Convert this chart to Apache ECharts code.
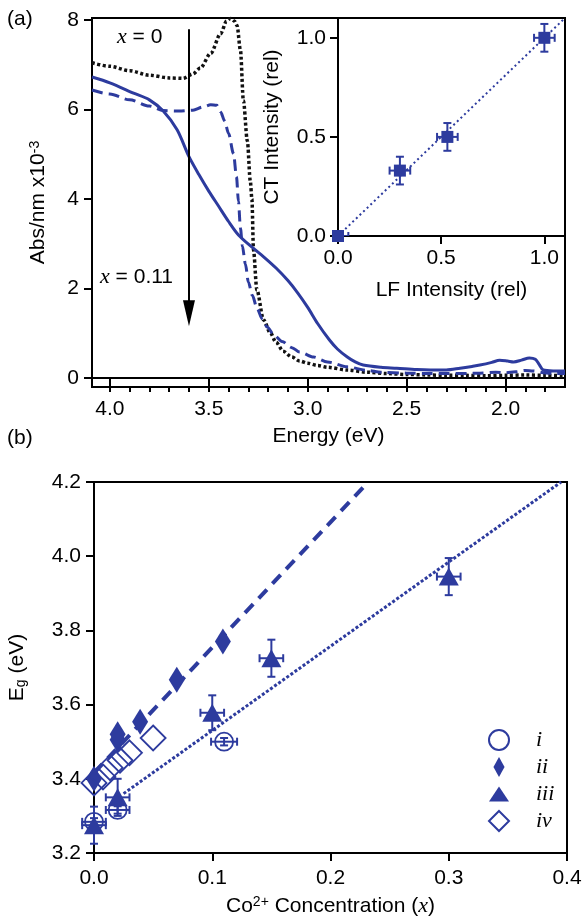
<!DOCTYPE html>
<html>
<head>
<meta charset="utf-8">
<title></title>
<script src="https://cdn.jsdelivr.net/npm/echarts@6.0.0/dist/echarts.min.js"></script>
<style>
html, body { margin: 0; padding: 0; background: #fff; }
#main { width: 585px; height: 924px; }
</style>
</head>
<body>
<div id="main"></div>
<script>
var blue = '#2d3b9e';
var sans = 'Liberation Sans, Arial, sans-serif';
var serif = 'Liberation Serif, Times New Roman, serif';

// (a) absorption spectra: energy (eV) vs Abs/nm x10^-3
var energyX0 = [4.09, 4.0, 3.9, 3.8, 3.7, 3.63, 3.58, 3.543, 3.49, 3.44, 3.41, 3.39, 3.37, 3.357, 3.34, 3.325, 3.305, 3.29, 3.282, 3.274, 3.257, 3.223, 3.19, 3.16, 3.124, 3.08, 3.04, 3.0, 2.95, 2.9, 2.8, 2.7, 2.6, 2.5, 2.4, 2.3, 2.2, 2.1, 2.0, 1.9, 1.8, 1.7];
var absX0 = [7.05, 6.97, 6.87, 6.77, 6.71, 6.70, 6.8, 6.93, 7.26, 7.7, 7.98, 8.04, 7.98, 7.88, 7.33, 6.2, 5.3, 4.4, 4.0, 2.86, 1.97, 1.3, 1.02, 0.8, 0.6, 0.47, 0.38, 0.33, 0.28, 0.24, 0.18, 0.13, 0.1, 0.08, 0.07, 0.06, 0.06, 0.05, 0.06, 0.07, 0.06, 0.05];

var energyDash = [4.09, 4.0, 3.9, 3.8, 3.73, 3.65, 3.58, 3.53, 3.49, 3.46, 3.44, 3.42, 3.40, 3.375, 3.36, 3.35, 3.34, 3.33, 3.315, 3.30, 3.28, 3.255, 3.23, 3.205, 3.17, 3.13, 3.08, 3.04, 2.97, 2.9, 2.8, 2.7, 2.63, 2.5, 2.4, 2.3, 2.2, 2.13, 2.05, 2.0, 1.95, 1.9, 1.86, 1.81, 1.75, 1.7];
var absDash = [6.44, 6.35, 6.22, 6.08, 5.98, 5.97, 5.99, 6.06, 6.11, 6.1, 5.95, 5.75, 5.47, 5.02, 4.5, 3.95, 3.35, 2.95, 2.55, 2.15, 1.85, 1.55, 1.32, 1.14, 0.96, 0.82, 0.68, 0.58, 0.47, 0.36, 0.25, 0.17, 0.13, 0.11, 0.1, 0.1, 0.1, 0.11, 0.13, 0.12, 0.14, 0.17, 0.16, 0.12, 0.1, 0.1];

var energyX11 = [4.09, 4.0, 3.88, 3.8, 3.73, 3.66, 3.60, 3.55, 3.50, 3.45, 3.40, 3.35, 3.28, 3.22, 3.16, 3.10, 3.05, 3.0, 2.95, 2.89, 2.85, 2.80, 2.76, 2.72, 2.63, 2.55, 2.45, 2.38, 2.30, 2.23, 2.17, 2.13, 2.07, 2.03, 1.99, 1.96, 1.92, 1.88, 1.85, 1.83, 1.81, 1.76, 1.70];
var absX11 = [6.73, 6.6, 6.37, 6.22, 5.97, 5.55, 4.95, 4.55, 4.18, 3.84, 3.5, 3.2, 2.92, 2.7, 2.46, 2.18, 1.9, 1.58, 1.22, 0.85, 0.65, 0.47, 0.36, 0.29, 0.24, 0.22, 0.19, 0.18, 0.18, 0.22, 0.26, 0.29, 0.35, 0.4, 0.38, 0.36, 0.4, 0.45, 0.42, 0.3, 0.18, 0.16, 0.16];

var energyTicksMajor = [2.0, 2.5, 3.0, 3.5, 4.0];
var energyTicksMinor = [1.8, 1.9, 2.0, 2.1, 2.2, 2.3, 2.4, 2.5, 2.6, 2.7, 2.8, 2.9, 3.0, 3.1, 3.2, 3.3, 3.4, 3.5, 3.6, 3.7, 3.8, 3.9, 4.0];
var absTicks = [0, 2, 4, 6, 8];

// arrow x = 0 -> x = 0.11
var arrowEnergy = 3.6;
var arrowFrom = 7.8;
var arrowTo = 1.45;

// inset: CT vs LF intensity
var lfInt = [0.0, 0.3, 0.53, 1.0];
var ctInt = [0.0, 0.33, 0.5, 1.0];
var lfErr = [0.05, 0.05, 0.05, 0.05];
var ctErr = [0.0, 0.07, 0.07, 0.07];
var insetFit = [[0, 0], [1.1, 1.1]];

// (b) band gap vs Co2+ concentration
var concI = [0.0, 0.02, 0.11];
var egI = [3.284, 3.316, 3.50];
var concIErr = [0.01, 0.01, 0.011];
var egIErr = [0.01, 0.01, 0.01];
var concII = [0.0, 0.02, 0.02, 0.039, 0.07, 0.109];
var egII = [3.40, 3.505, 3.52, 3.554, 3.667, 3.77];
var concIII = [0.0, 0.02, 0.10, 0.15, 0.30];
var egIII = [3.275, 3.35, 3.578, 3.725, 3.945];
var concIIIErr = [0.01, 0.01, 0.01, 0.01, 0.01];
var egIIIErr = [0.05, 0.05, 0.047, 0.05, 0.05];
var concIV = [0.0, 0.0076, 0.0136, 0.022, 0.03, 0.05];
var egIV = [3.389, 3.405, 3.43, 3.45, 3.47, 3.51];
var fitDashed = [[0.0, 3.416], [0.232, 4.2]];
var fitDotted = [[0.025, 3.36], [0.395, 4.2]];

function pairs(xs, ys) {
	return xs.map(function (x, i) { return [x, ys[i]]; });
}
function errData(xs, ys, xe, ye) {
	return xs.map(function (x, i) { return [x, ys[i], xe[i], ye[i]]; });
}

function renderErr(params, api) {
	var x = api.value(0), y = api.value(1), dx = api.value(2), dy = api.value(3);
	var c = 4;
	var st = { stroke: blue, lineWidth: 2 };
	var kids = [];
	function seg(a, b) {
		kids.push({ type: 'line', shape: { x1: a[0], y1: a[1], x2: b[0], y2: b[1] }, style: st });
	}
	if (dy > 0) {
		var t = api.coord([x, y + dy]), b = api.coord([x, y - dy]);
		seg(t, b);
		seg([t[0] - c, t[1]], [t[0] + c, t[1]]);
		seg([b[0] - c, b[1]], [b[0] + c, b[1]]);
	}
	if (dx > 0) {
		var l = api.coord([x - dx, y]), r = api.coord([x + dx, y]);
		seg(l, r);
		seg([l[0], l[1] - c], [l[0], l[1] + c]);
		seg([r[0], r[1] - c], [r[0], r[1] + c]);
	}
	return { type: 'group', children: kids };
}

var labelStyle = { color: '#000', fontFamily: sans, fontSize: 21 };
var axisLineStyle = { lineStyle: { color: '#000', width: 2 } };

var chart = echarts.init(document.getElementById('main'));
chart.setOption({
	animation: false,
	backgroundColor: '#fff',
	grid: [
		{ left: 92, top: 18, width: 473, height: 369, containLabel: false, outerBoundsMode: 'none', show: true, borderColor: '#000', borderWidth: 2 },
		{ left: 338, top: 18, width: 227, height: 218, containLabel: false, outerBoundsMode: 'none' },
		{ left: 94, top: 482, width: 473, height: 371, containLabel: false, outerBoundsMode: 'none', show: true, borderColor: '#000', borderWidth: 2 }
	],
	xAxis: [
		{
			gridIndex: 0, type: 'value', position: 'bottom', inverse: true, min: 1.70, max: 4.09,
			axisLine: axisLineStyle,
			axisTick: { customValues: energyTicksMajor, length: 8, lineStyle: { color: '#000', width: 2 } },
			axisLabel: Object.assign({ customValues: energyTicksMajor, margin: 12, formatter: function (v) { return v.toFixed(1); } }, labelStyle),
			splitLine: { show: false },
			name: 'Energy (eV)', nameLocation: 'middle', nameGap: 39,
			nameTextStyle: labelStyle
		},
		{
			gridIndex: 0, type: 'value', position: 'bottom', inverse: true, min: 1.70, max: 4.09,
			axisLine: { show: false },
			axisTick: { customValues: energyTicksMinor, length: 5, lineStyle: { color: '#000', width: 2 } },
			axisLabel: { show: false },
			splitLine: { show: false }
		},
		{
			gridIndex: 1, type: 'value', position: 'bottom', min: 0, max: 1.1, interval: 0.5,
			axisLine: axisLineStyle,
			axisTick: { length: 8, lineStyle: { color: '#000', width: 2 } },
			axisLabel: Object.assign({ margin: 12, showMaxLabel: false, formatter: function (v) { return v.toFixed(1); } }, labelStyle),
			splitLine: { show: false },
			name: 'LF Intensity (rel)', nameLocation: 'middle', nameGap: 44,
			nameTextStyle: labelStyle
		},
		{
			gridIndex: 2, type: 'value', position: 'bottom', min: 0, max: 0.4, interval: 0.1,
			axisLine: axisLineStyle,
			axisTick: { length: 8, lineStyle: { color: '#000', width: 2 } },
			axisLabel: Object.assign({ margin: 15, formatter: function (v) { return v.toFixed(1); } }, labelStyle),
			splitLine: { show: false },
			name: 'Co{sup|2+} Concentration ({it|x})', nameLocation: 'middle', nameGap: 42,
			nameTextStyle: Object.assign({
				rich: {
					sup: { fontFamily: sans, fontSize: 14, color: '#000', verticalAlign: 'top', lineHeight: 14 },
					it: { fontFamily: serif, fontStyle: 'italic', fontSize: 22, color: '#000' }
				}
			}, labelStyle)
		}
	],
	yAxis: [
		{
			gridIndex: 0, type: 'value', min: -0.2, max: 8.05,
			axisLine: axisLineStyle,
			axisTick: { customValues: absTicks, length: 8, lineStyle: { color: '#000', width: 2 } },
			axisLabel: Object.assign({ customValues: absTicks, margin: 13 }, labelStyle),
			splitLine: { show: false },
			name: 'Abs/nm x10{sup|-3}', nameLocation: 'middle', nameGap: 43,
			nameTextStyle: Object.assign({
				rich: { sup: { fontFamily: sans, fontSize: 14, color: '#000', verticalAlign: 'top', lineHeight: 14 } }
			}, labelStyle)
		},
		{
			gridIndex: 1, type: 'value', min: 0, max: 1.1, interval: 0.5,
			axisLine: axisLineStyle,
			axisTick: { length: 8, lineStyle: { color: '#000', width: 2 } },
			axisLabel: Object.assign({ margin: 12, showMaxLabel: false, formatter: function (v) { return v.toFixed(1); } }, labelStyle),
			splitLine: { show: false },
			name: 'CT Intensity (rel)', nameLocation: 'middle', nameGap: 55,
			nameTextStyle: labelStyle
		},
		{
			gridIndex: 2, type: 'value', min: 3.2, max: 4.2, interval: 0.2,
			axisLine: axisLineStyle,
			axisTick: { length: 8, lineStyle: { color: '#000', width: 2 } },
			axisLabel: Object.assign({ margin: 13, formatter: function (v) { return v.toFixed(1); } }, labelStyle),
			splitLine: { show: false },
			name: 'E{sub|g} (eV)', nameLocation: 'middle', nameGap: 66,
			nameTextStyle: Object.assign({
				rich: { sub: { fontFamily: sans, fontSize: 14, color: '#000', verticalAlign: 'bottom', lineHeight: 14 } }
			}, labelStyle)
		}
	],
	legend: {
		orient: 'vertical', left: 483, top: 724, itemGap: 5,
		itemWidth: 20, itemHeight: 20,
		data: [
			{ name: 'i' },
			{ name: 'ii', icon: 'path://M5,0 L10,9 L5,18 L0,9 Z' },
			{ name: 'iii', icon: 'path://M10,0 L20,15 L0,15 Z' },
			{ name: 'iv' }
		],
		textStyle: { fontFamily: serif, fontStyle: 'italic', fontSize: 22, lineHeight: 20, color: '#000', padding: [0, 0, 0, 22] }
	},
	graphic: [
		{ type: 'text', left: 7, top: 9, style: { text: '(a)', font: '21px ' + sans, fill: '#000' } },
		{ type: 'text', left: 7, top: 428, style: { text: '(b)', font: '21px ' + sans, fill: '#000' } },
		{
			type: 'text', left: 117, top: 26,
			style: { text: '{it|x} = 0', font: '21px ' + sans, fill: '#000', rich: { it: { fontFamily: serif, fontStyle: 'italic', fontSize: 22 } } }
		},
		{
			type: 'text', left: 100, top: 266,
			style: { text: '{it|x} = 0.11', font: '21px ' + sans, fill: '#000', rich: { it: { fontFamily: serif, fontStyle: 'italic', fontSize: 22 } } }
		}
	],
	series: [
		{
			type: 'line', xAxisIndex: 0, yAxisIndex: 0, data: pairs(energyX0, absX0),
			showSymbol: false, smooth: 0.3, smoothMonotone: 'x', silent: true,
			lineStyle: { color: '#111', width: 3.5, type: [3, 2.5] },
			markLine: {
				silent: true, symbol: ['none', 'triangle'], symbolSize: [12, 26],
				label: { show: false },
				lineStyle: { color: '#000', width: 2, type: 'solid' },
				data: [[{ coord: [arrowEnergy, arrowFrom] }, { coord: [arrowEnergy, arrowTo] }]]
			}
		},
		{
			type: 'line', xAxisIndex: 0, yAxisIndex: 0, data: pairs(energyDash, absDash),
			showSymbol: false, smooth: 0.3, smoothMonotone: 'x', silent: true,
			lineStyle: { color: blue, width: 3, type: [11, 6] }
		},
		{
			type: 'line', xAxisIndex: 0, yAxisIndex: 0, data: pairs(energyX11, absX11),
			showSymbol: false, smooth: 0.3, silent: true,
			lineStyle: { color: blue, width: 3 }
		},
		// inset
		{
			type: 'line', xAxisIndex: 2, yAxisIndex: 1, data: insetFit, showSymbol: false, silent: true,
			lineStyle: { color: blue, width: 2, type: [2, 3] }
		},
		{
			type: 'custom', xAxisIndex: 2, yAxisIndex: 1, clip: true,
			data: errData(lfInt, ctInt, lfErr, ctErr), renderItem: renderErr,
			dimensions: ['x', 'y', 'dx', 'dy'], encode: { x: 0, y: 1 }
		},
		{
			type: 'scatter', xAxisIndex: 2, yAxisIndex: 1, data: pairs(lfInt, ctInt), clip: false,
			symbol: 'rect', symbolSize: 12, itemStyle: { color: blue, opacity: 1 }
		},
		// (b)
		{
			type: 'line', xAxisIndex: 3, yAxisIndex: 2, data: fitDashed, showSymbol: false, silent: true,
			lineStyle: { color: blue, width: 4, type: [12, 8] }
		},
		{
			type: 'line', xAxisIndex: 3, yAxisIndex: 2, data: fitDotted, showSymbol: false, silent: true,
			lineStyle: { color: blue, width: 3, type: [3, 2] }
		},
		{
			type: 'custom', xAxisIndex: 3, yAxisIndex: 2,
			data: errData(concI, egI, concIErr, egIErr), renderItem: renderErr,
			dimensions: ['x', 'y', 'dx', 'dy'], encode: { x: 0, y: 1 }
		},
		{
			type: 'custom', xAxisIndex: 3, yAxisIndex: 2,
			data: errData(concIII, egIII, concIIIErr, egIIIErr), renderItem: renderErr,
			dimensions: ['x', 'y', 'dx', 'dy'], encode: { x: 0, y: 1 }
		},
		{
			name: 'i', type: 'scatter', xAxisIndex: 3, yAxisIndex: 2, data: pairs(concI, egI), clip: false,
			symbol: 'circle', symbolSize: 18,
			itemStyle: { color: 'rgba(255,255,255,0)', borderColor: blue, borderWidth: 1.8, opacity: 1 }
		},
		{
			name: 'ii', type: 'scatter', xAxisIndex: 3, yAxisIndex: 2, data: pairs(concII, egII), clip: false,
			symbol: 'diamond', symbolSize: [16, 26], itemStyle: { color: blue, opacity: 1 }
		},
		{
			name: 'iii', type: 'scatter', xAxisIndex: 3, yAxisIndex: 2, data: pairs(concIII, egIII), clip: false,
			symbol: 'triangle', symbolSize: [20, 18], itemStyle: { color: blue, opacity: 1 }
		},
		{
			name: 'iv', type: 'scatter', xAxisIndex: 3, yAxisIndex: 2, data: pairs(concIV, egIV), clip: false,
			symbol: 'diamond', symbolSize: [25, 25],
			itemStyle: { color: 'rgba(255,255,255,0)', borderColor: blue, borderWidth: 1.8, opacity: 1 }
		}
	]
});
</script>
</body>
</html>
